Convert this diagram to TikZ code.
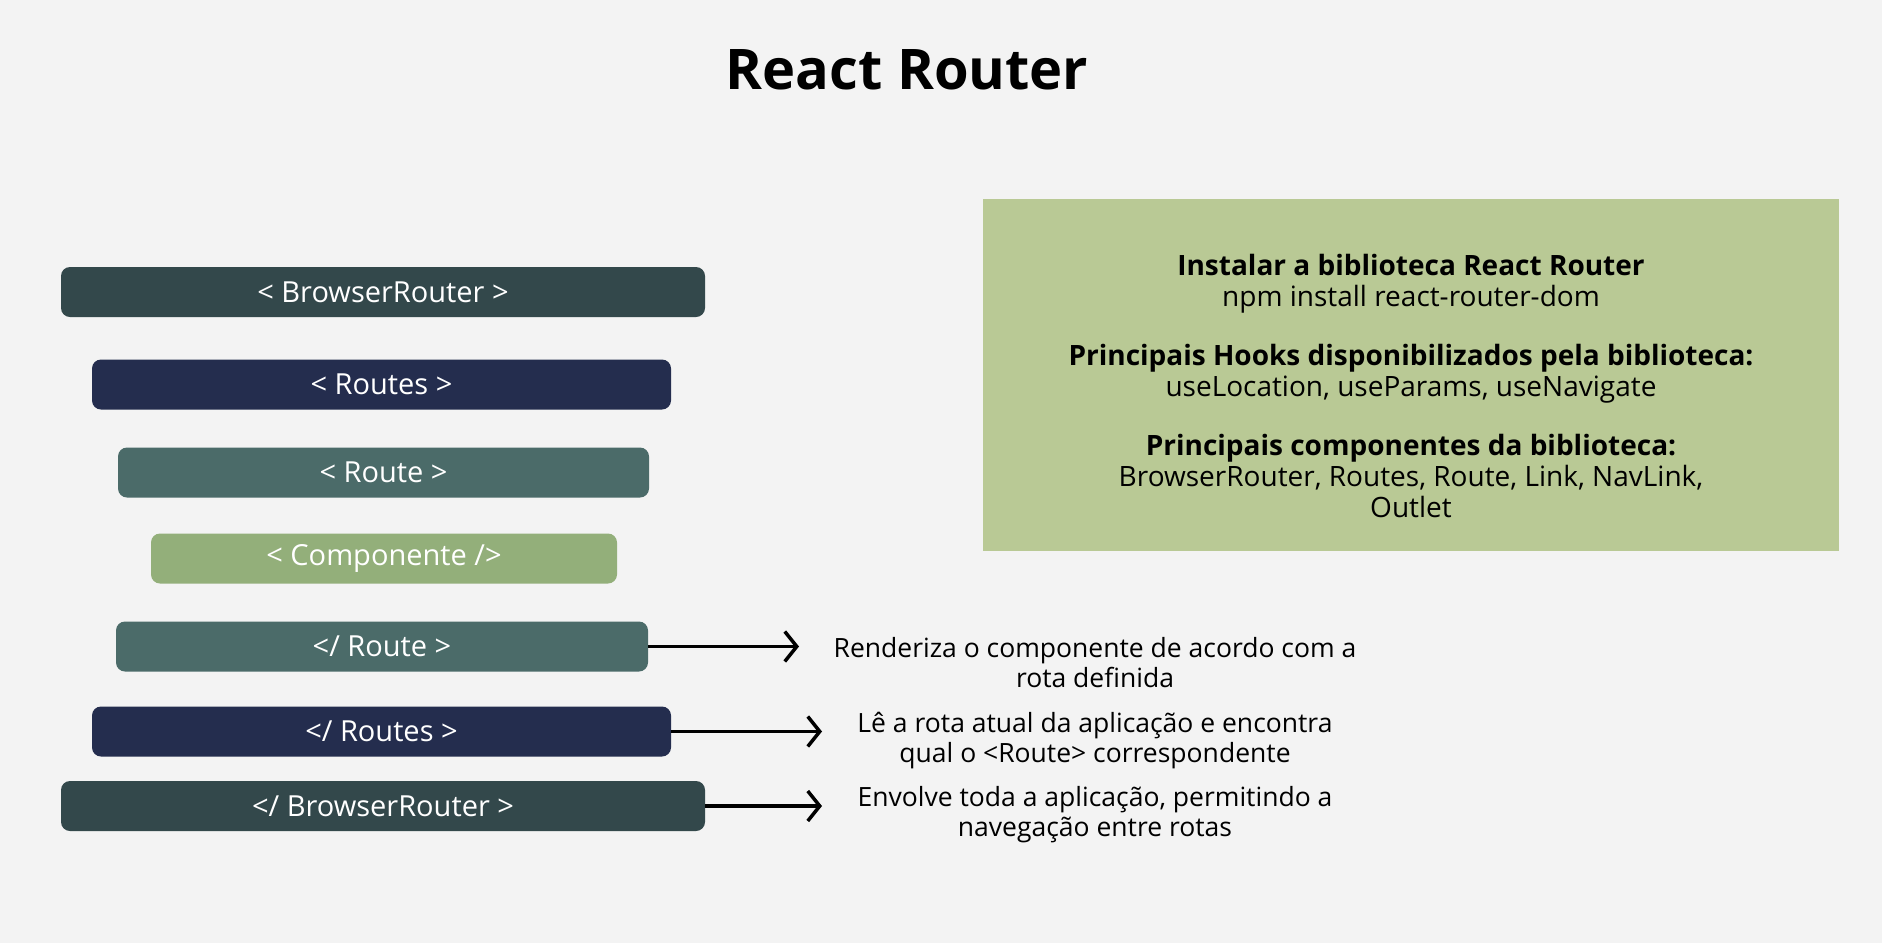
\documentclass[tikz,border=0pt]{standalone}
\usepackage{fontspec}
\setmainfont{Open Sans}
\usetikzlibrary{arrows.meta}

\definecolor{pagebg}{HTML}{F3F3F3}
\definecolor{slate}{HTML}{33484B}
\definecolor{navy}{HTML}{242D4E}
\definecolor{teal}{HTML}{4B6B69}
\definecolor{leaf}{HTML}{93AF7A}
\definecolor{panel}{HTML}{B9C995}

\begin{document}
\begin{tikzpicture}[x=1pt,y=-1pt,
  tag/.style={rounded corners=9pt, minimum height=50, inner sep=0pt,
    text=white, font=\fontsize{29}{32}\selectfont},
  link/.style={line width=3.5pt, -{Straight Barb[length=12pt,width=30pt,line width=3.5pt]}},
  note/.style={align=center, font=\fontsize{26.5}{30}\selectfont}]
  \fill[pagebg] (0,0) rectangle (1882,943);
  \useasboundingbox (0,0) rectangle (1882,943);

  \node[font=\fontsize{56}{60}\selectfont\bfseries] (title) at (907,70) {React Router};

  % nesting of the router tags
  \foreach \name/\xc/\yc/\w/\col/\lab in {
    openbrowser/383/292/644/slate/{< BrowserRouter >},
    openroutes/381.5/384.5/579/navy/{< Routes >},
    openroute/383.5/472.5/531/teal/{< Route >},
    comp/384/558.5/466/leaf/{< Componente />},
    closeroute/382/646.5/532/teal/{</ Route >},
    closeroutes/381.5/731.5/579/navy/{</ Routes >},
    closebrowser/383/806/644/slate/{</ BrowserRouter >}
  }{
    \node[tag, fill=\col, minimum width=\w] (\name) at (\xc,\yc) {\lab};
  }

  \coordinate (tiproute) at (799,646.5);
  \coordinate (tiproutes) at (822,731.5);
  \coordinate (tipbrowser) at (822,806);
  \draw[link] (closeroute.east) -- (tiproute);
  \draw[link] (closeroutes.east) -- (tiproutes);
  \draw[link] (closebrowser.east) -- (tipbrowser);

  \node[note] (noteroute) at (1095,663) {Renderiza o componente de acordo com a\\rota definida};
  \node[note] (noteroutes) at (1095,741) {Lê a rota atual da aplicação e encontra\\qual o <Route> correspondente};
  \node[note] (notebrowser) at (1095,814.5) {Envolve toda a aplicação, permitindo a\\navegação entre rotas};

  % library summary
  \node[fill=panel, minimum width=856, minimum height=352, inner sep=0pt] (info) at (1411,375) {};
  \node[align=center, font=\fontsize{28}{31}\selectfont] (infotext) at (1411,386)
    {\textbf{Instalar a biblioteca React Router}\\
     npm install react-router-dom\\[28pt]
     \textbf{Principais Hooks disponibilizados pela biblioteca:}\\
     useLocation, useParams, useNavigate\\[28pt]
     \textbf{Principais componentes da biblioteca:}\\
     BrowserRouter, Routes, Route, Link, NavLink,\\
     Outlet};
\end{tikzpicture}
\end{document}
